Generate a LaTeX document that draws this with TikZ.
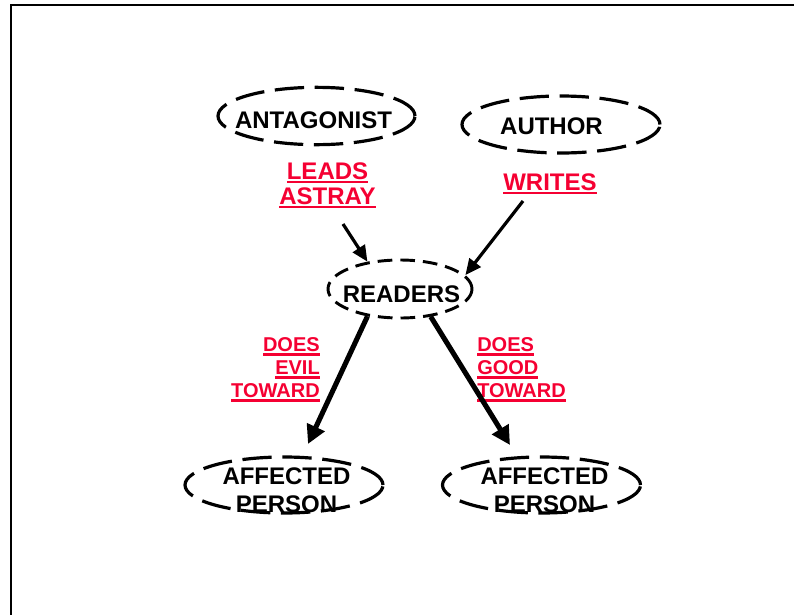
\documentclass[tikz,border=0pt]{standalone}
\usepackage{fontspec}
\setmainfont{Liberation Sans}
\usetikzlibrary{shapes.geometric,arrows.meta}

\definecolor{verbred}{RGB}{245,0,50}

% thick underline drawn a little below the baseline
\newcommand\ulined[1]{\setbox0\hbox{#1}\rlap{\vrule height -1.6pt depth 3.3pt width \wd0}\box0}

\tikzset{
  oval/.style={ellipse, draw, line width=2.4pt, dash pattern=on 22pt off 8pt, inner sep=0pt},
  smalloval/.style={ellipse, draw, line width=2.2pt, dash pattern=on 11pt off 6pt, inner sep=0pt},
  role/.style={inner sep=0pt, align=center, font=\fontsize{18}{21}\selectfont\bfseries},
  verb/.style={inner sep=0pt, align=center, text=verbred, font=\fontsize{18}{18.75}\selectfont\bfseries},
  smallverb/.style={inner sep=0pt, text=verbred, font=\fontsize{15}{17.25}\selectfont\bfseries},
  thinarrow/.style={line width=2.4pt, -{Triangle[length=12pt,width=10.5pt]}},
  thickarrow/.style={line width=3.8pt, -{Triangle[length=14pt,width=14pt]}}
}

\begin{document}
\begin{tikzpicture}[x=0.75pt,y=-0.75pt]
\useasboundingbox (0,0) rectangle (794,615);

% frame
\draw[line width=1.5pt] (11,615) -- (11,5) -- (794,5);

% characters
\node[oval, minimum width=147.75pt, minimum height=43pt] (antag) at (316.5,116) {};
\node[role] (antagText) at (313.5,120) {ANTAGONIST};

\node[oval, minimum width=148.5pt, minimum height=42.75pt] (author) at (561,124.5) {};
\node[role] (authorText) at (551.5,126.5) {AUTHOR};

\node[smalloval, minimum width=108pt, minimum height=43.5pt] (readers) at (400,289) {};
\node[role] (readersText) at (401.5,294) {READERS};

\node[oval, minimum width=148.5pt, minimum height=42pt] (victim) at (284,485) {};
\node[role] (victimText) at (286.5,490) {AFFECTED\\PERSON};

\node[oval, minimum width=148.5pt, minimum height=42pt] (helped) at (541.5,485) {};
\node[role] (helpedText) at (544.5,490) {AFFECTED\\PERSON};

% relation labels
\node[verb, anchor=north] (leads) at (327.5,162) {\ulined{LEADS}\\\ulined{ASTRAY}};
\node[verb, anchor=north] (writes) at (550,173) {\ulined{WRITES}};
\node[smallverb, anchor=north east, align=right] (evil) at (320,337)
  {\ulined{DOES}\\\ulined{EVIL}\\\ulined{TOWARD}};
\node[smallverb, anchor=north west, align=left] (good) at (477,337)
  {\ulined{DOES}\\\ulined{GOOD}\\\ulined{TOWARD}};

% connector ends
\coordinate (leadsEnd) at (343,224);
\coordinate (writesEnd) at (523,201);
\coordinate (evilTip) at (308,444);
\coordinate (goodTip) at (510,445);

% connectors
\draw[thinarrow] (leadsEnd) -- (readers.140);
\draw[thinarrow] (writesEnd) -- (readers.12);
\draw[thickarrow] (readers.-140) -- (evilTip);
\draw[thickarrow] (readers.-42) -- (goodTip);
\end{tikzpicture}
\end{document}
